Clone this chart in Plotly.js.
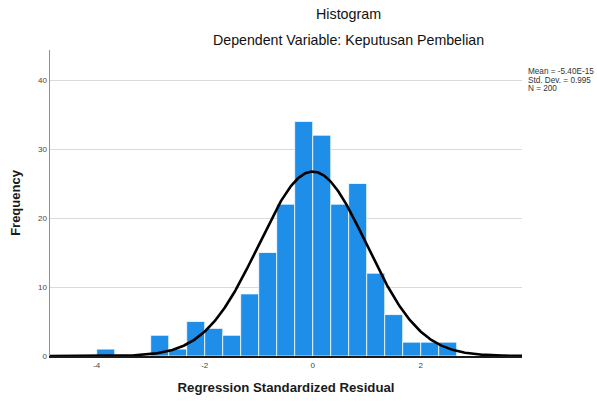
<!DOCTYPE html>
<html>
<head>
<meta charset="utf-8">
<script src="https://cdn.plot.ly/plotly-3.0.1.min.js"></script>
<style>
html,body{margin:0;padding:0;background:#fff;}
#chart{width:597px;height:402px;}
</style>
</head>
<body>
<div id="chart"></div>
<script>
// Histogram bins (centres of bins of width 1/3) and frequencies
var binCenters = [-3.833, -3.5, -3.167, -2.833, -2.5, -2.167, -1.833, -1.5, -1.167, -0.833, -0.5, -0.167, 0.167, 0.5, 0.833, 1.167, 1.5, 1.833, 2.167, 2.5];
var frequencies = [1, 0, 0, 3, 1, 5, 4, 3, 9, 15, 22, 34, 32, 22, 25, 12, 6, 2, 2, 2];
var binWidth = 1/3;

// Summary statistics shown in the chart
var meanValue = -5.40e-15;
var stdDev = 0.995;
var nCases = 200;
var statLabels = ["Mean = -5.40E-15", "Std. Dev. = 0.995", "N = 200"];

// Axis ticks
var xTicks = [-4, -2, 0, 2];
var xTickLabels = ["-4", "-2", "0", "2"];
var yTicks = [0, 10, 20, 30, 40];
var yTickLabels = ["0", "10", "20", "30", "40"];

var xRange = [-4.865, 3.876];
var yRange = [0, 44.35];

// Fitted normal curve from the displayed statistics
var curveX = [], curveY = [];
for (var i = 0; i <= 440; i++) {
  var x = xRange[0] + (xRange[1] - xRange[0]) * i / 440;
  var z = (x - meanValue) / stdDev;
  curveX.push(x);
  curveY.push(nCases * binWidth / (stdDev * Math.sqrt(2 * Math.PI)) * Math.exp(-0.5 * z * z));
}

var FONT = '"Liberation Sans", Arial, sans-serif';

var traces = [
  {
    type: 'bar',
    x: binCenters,
    y: frequencies,
    width: binWidth,
    marker: {color: 'rgb(30,142,232)', line: {color: 'rgba(255,255,255,0.75)', width: 1}},
    hoverinfo: 'skip'
  },
  {
    type: 'scatter',
    mode: 'lines',
    x: curveX,
    y: curveY,
    line: {color: '#000000', width: 2.6},
    hoverinfo: 'skip'
  }
];

var annotations = [
  {text: 'Histogram', xref: 'paper', yref: 'paper', x: (348 - 50) / 472, y: (356 - 14) / 306,
   xanchor: 'center', yanchor: 'middle', showarrow: false, font: {family: FONT, size: 14.3, color: '#111'}},
  {text: 'Dependent Variable: Keputusan Pembelian', xref: 'paper', yref: 'paper', x: (348 - 50) / 472, y: (356 - 40) / 306,
   xanchor: 'center', yanchor: 'middle', showarrow: false, font: {family: FONT, size: 14.2, color: '#111'}}
];
var statY = [72, 80, 88];
for (var k = 0; k < statLabels.length; k++) {
  annotations.push({text: statLabels[k], xref: 'paper', yref: 'paper', x: (526 - 50) / 472, y: (356 - statY[k]) / 306,
    xanchor: 'left', yanchor: 'middle', showarrow: false, font: {family: FONT, size: 8.2, color: '#333'}});
}

var layout = {
  width: 597, height: 402,
  margin: {l: 50, r: 75, t: 50, b: 46, pad: 0},
  paper_bgcolor: '#ffffff', plot_bgcolor: '#ffffff',
  showlegend: false,
  bargap: 0,
  font: {family: FONT},
  xaxis: {
    range: xRange, tickvals: xTicks, ticktext: xTickLabels,
    showgrid: false, zeroline: false, showline: true, linecolor: '#1a1a1a', linewidth: 2.2,
    ticks: '', ticklen: 0, tickfont: {family: FONT, size: 8, color: '#444'},
    title: {text: '<b>Regression Standardized Residual</b>', font: {family: FONT, size: 13.2, color: '#1a1a1a'}, standoff: 14}
  },
  yaxis: {
    range: yRange, tickvals: yTicks, ticktext: yTickLabels,
    showgrid: true, gridcolor: '#dadada', gridwidth: 1, zeroline: false,
    showline: true, linecolor: '#909090', linewidth: 1.5,
    ticks: '', tickfont: {family: FONT, size: 8, color: '#444'},
    title: {text: '<b>Frequency</b>', font: {family: FONT, size: 13, color: '#1a1a1a'}, standoff: 14}
  },
  annotations: annotations
};

Plotly.newPlot('chart', traces, layout, {displayModeBar: false, staticPlot: true});
</script>
</body>
</html>
